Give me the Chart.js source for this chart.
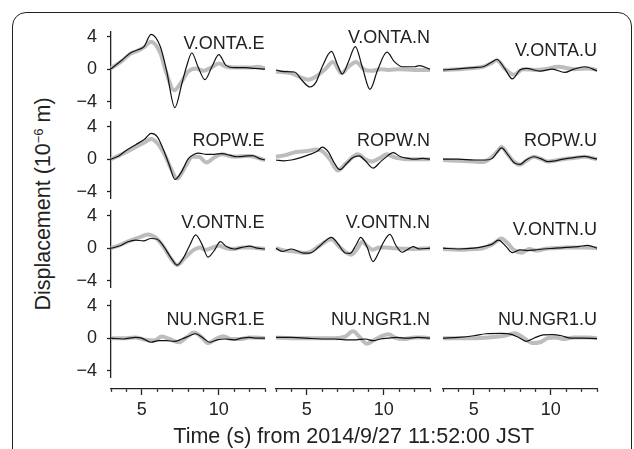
<!DOCTYPE html>
<html>
<head>
<meta charset="utf-8">
<script src="https://cdn.jsdelivr.net/npm/chart.js@4.4.0/dist/chart.umd.min.js"></script>
<style>
  body { margin: 0; background: #fff; }
  #page { position: relative; width: 634px; height: 449px; overflow: hidden;
          font-family: "Liberation Sans", Arial, sans-serif; color: #222; }
  #frame { position: absolute; left: 12px; top: 12px; width: 618px; height: 470px;
           border: 1.5px solid #222; border-radius: 14px; }
  canvas { position: absolute; }
  .lab { position: absolute; font-size: 18px; line-height: 20px; text-align: right; white-space: nowrap; }
  .title { position: absolute; font-size: 21.5px; line-height: 26px; text-align: center; white-space: nowrap; }
  sup { font-size: 13px; vertical-align: 7px; line-height: 0; }
</style>
</head>
<body>
<div id="page">
  <div id="frame"></div>
</div>
<script>
// traces as [time (s), displacement (1e-6 m)] : obs = black, syn = grey
const ontaE_obs = [[3,0.05],[3.7,1.1],[4.25,2.0],[4.75,2.4],[5.15,2.8],[5.6,4.3],[6.2,2.8],[6.6,-0.1],[7.15,-4.75],[7.6,-1.8],[7.9,0.3],[8.25,2.0],[8.65,0.3],[9.1,-1.3],[9.55,0.3],[10.0,1.8],[10.45,0.5],[11.0,0.2],[11.75,0.2],[12.3,0.1],[13,0]];
const ontaE_syn = [[3,0.1],[3.7,1.0],[4.25,1.9],[4.75,2.3],[5.2,2.8],[5.6,3.4],[6.2,2.0],[6.6,-0.5],[7.1,-2.6],[7.6,-1.5],[8.0,-0.3],[8.5,0.1],[9.0,-0.2],[9.5,0.2],[10.0,0.7],[10.5,0.3],[11.2,0.2],[12.0,0.2],[12.5,0.3],[13,0.1]];
const ontaN_obs = [[3,-0.1],[3.5,-0.3],[4.2,-0.35],[4.7,-1.4],[5.2,-2.2],[5.6,-1.6],[6.0,0.3],[6.6,2.2],[7.0,0.5],[7.3,-0.6],[7.7,0.9],[8.15,2.8],[8.6,0.3],[9.1,-2.5],[9.6,-0.1],[10.2,2.1],[10.7,0.9],[11.2,0.3],[12.0,0.3],[12.3,0.45],[13,0]];
const ontaN_syn = [[3,-0.3],[4.0,-0.5],[4.6,-1.0],[5.1,-1.3],[5.6,-0.9],[6.2,0.0],[6.7,0.9],[7.25,-0.5],[7.7,0.3],[8.2,0.9],[8.7,0.0],[9.2,-0.2],[9.8,0.0],[10.3,-0.1],[11,0.0],[12,-0.1],[13,-0.1]];
const ontaU_obs = [[3,-0.1],[4,0.05],[5,0.2],[5.6,0.3],[6.1,0.8],[6.5,1.2],[7.0,0.1],[7.5,-1.2],[8.0,-0.1],[8.4,0.1],[9.3,-0.25],[10.1,0.0],[10.9,-0.4],[11.5,0.0],[12.2,0.3],[13,-0.2]];
const ontaU_syn = [[3,-0.1],[4,0.0],[5,0.15],[5.6,0.3],[6.1,0.7],[6.5,1.1],[7.0,0.1],[7.6,-0.7],[8.2,0.0],[9.0,-0.1],[9.6,0.0],[10.5,0.3],[11.5,0.0],[12.5,0.1],[13,-0.1]];

const ropwE_obs = [[3,0],[3.5,0.4],[4,1.1],[4.6,1.8],[5.2,2.5],[5.6,3.2],[6.0,2.8],[6.4,1.2],[6.8,-0.8],[7.15,-2.5],[7.6,-1.5],[8.0,0.0],[8.4,0.6],[8.7,0.75],[9.2,0.6],[9.7,0.6],[10.2,0.7],[10.7,0.5],[11.2,0.3],[11.8,0.4],[12.2,0.45],[12.6,0.1],[13,-0.1]];
const ropwE_syn = [[3,0],[4,0.9],[4.6,1.5],[5.2,2.1],[5.6,2.5],[6.0,2.0],[6.5,0.5],[6.9,-1.2],[7.3,-2.4],[7.8,-1.0],[8.3,0.3],[8.7,0.3],[9.2,-0.4],[9.7,0.2],[10.2,0.6],[11.0,0.3],[12.0,0.4],[12.8,0.0],[13,-0.1]];
const ropwN_obs = [[3,-0.1],[3.5,-0.2],[4.0,-0.1],[4.6,0.2],[5.2,0.6],[5.7,1.0],[6.0,1.5],[6.4,0.9],[6.8,-0.5],[7.15,-1.3],[7.6,-0.5],[8.0,0.2],[8.4,0.4],[8.8,-0.2],[9.3,-1.1],[9.8,-0.3],[10.3,0.5],[10.6,0.8],[11.1,0.3],[11.6,0.1],[12.0,0.0],[12.5,0.1],[13,0]];
const ropwN_syn = [[3,0.3],[3.6,0.5],[4.3,0.9],[5.0,1.0],[5.6,1.2],[6.0,1.0],[6.5,0.0],[7.0,-1.4],[7.5,-0.6],[8.0,0.3],[8.3,0.6],[8.8,0.0],[9.2,-0.3],[9.8,0.2],[10.2,0.6],[10.6,0.3],[11,0.1],[11.5,0.0],[13,0.0]];
const ropwU_obs = [[3,0],[4,0],[5,-0.1],[5.8,-0.1],[6.2,0.1],[6.5,0.8],[6.8,1.4],[7.2,0.6],[7.6,-0.4],[8.0,-0.65],[8.4,-0.1],[8.9,0.3],[9.3,0.1],[9.8,-0.3],[10.3,-0.2],[10.8,0.0],[11.5,0.2],[12.2,0.35],[12.6,0.2],[13,0.0]];
const ropwU_syn = [[3,-0.1],[4,-0.2],[5,-0.3],[5.6,-0.35],[6.0,0.0],[6.5,0.9],[6.8,1.5],[7.2,0.6],[7.6,-0.3],[8.0,-0.7],[8.4,-0.2],[8.9,0.3],[9.4,0.0],[9.8,-0.3],[10.2,-0.2],[10.8,0.0],[11.5,0.15],[12.2,0.3],[13,0.0]];

const ontnE_obs = [[3,0],[3.6,0.3],[4.1,0.8],[4.6,1.0],[5.1,0.9],[5.6,1.2],[6.0,1.1],[6.4,0.3],[6.9,-1.2],[7.3,-2.1],[7.7,-1.2],[8.1,0.3],[8.5,1.65],[8.9,0.5],[9.3,-1.1],[9.7,-0.3],[10.1,0.8],[10.5,0.2],[11.0,-0.1],[11.5,0.1],[12.0,0.25],[12.5,0.0],[13,-0.1]];
const ontnE_syn = [[3,0],[3.6,0.4],[4.2,0.9],[4.8,1.3],[5.4,1.7],[5.9,1.3],[6.4,0.2],[6.9,-1.3],[7.3,-2.1],[7.8,-1.2],[8.3,-0.3],[8.8,0.1],[9.1,-0.2],[9.5,0.0],[10.0,0.3],[10.5,0.0],[11.0,-0.1],[11.5,0.1],[12.0,0.1],[12.5,0.0],[13,-0.1]];
const ontnN_obs = [[3,0],[3.4,-0.4],[4.0,-0.1],[4.8,-0.6],[5.2,-0.6],[5.8,0.2],[6.6,1.35],[7.0,0.6],[7.5,-0.6],[7.8,-0.65],[8.2,0.4],[8.5,1.35],[8.9,0.2],[9.3,-1.65],[9.7,-0.4],[10.0,0.8],[10.4,1.7],[10.8,0.3],[11.2,-0.5],[11.6,-0.1],[11.9,0.2],[12.3,-0.1],[13,0]];
const ontnN_syn = [[3,0],[3.6,-0.3],[4.2,-0.4],[4.8,-0.6],[5.2,-0.5],[5.9,0.4],[6.6,1.1],[7.1,0.2],[7.6,-0.6],[7.9,-0.8],[8.3,0.0],[8.6,0.8],[8.9,0.3],[9.3,-0.2],[9.7,0.1],[10.1,0.1],[10.6,0.0],[12,-0.1],[13,0]];
const ontnU_obs = [[3,0],[4,-0.1],[5,0],[5.6,0.2],[6.2,0.5],[6.6,1.0],[7.1,0.2],[7.5,-0.55],[8.0,-0.2],[8.5,-0.3],[9.0,-0.2],[9.5,-0.1],[10.3,0.0],[11,0.1],[11.8,0.2],[12.4,0.35],[13,0.0]];
const ontnU_syn = [[3,-0.1],[4,-0.2],[5,-0.1],[5.6,0.0],[6.3,0.6],[6.8,1.2],[7.2,0.6],[7.6,-0.2],[8.1,-0.55],[8.6,-0.1],[9.1,-0.3],[9.6,-0.1],[10.2,0.0],[11,0.1],[12,0.1],[13,0.0]];

const ngrE_obs = [[3,0],[3.8,-0.1],[4.6,0.1],[5.0,0.0],[5.6,-0.5],[6.1,-0.3],[6.6,-0.3],[7.1,-0.4],[7.6,-0.1],[8.1,0.3],[8.5,0.55],[9.0,0.0],[9.4,-0.5],[9.9,-0.2],[10.4,-0.1],[11.0,-0.2],[11.5,0.0],[12.0,0.1],[12.5,0.0],[13,0]];
const ngrE_syn = [[3,0],[4,0],[4.6,0.1],[5.2,-0.2],[5.8,-0.3],[6.3,0.2],[6.8,-0.1],[7.4,-0.5],[7.9,0.1],[8.4,0.7],[8.9,0.1],[9.3,-0.6],[9.8,-0.1],[10.3,0.25],[10.8,-0.1],[11.4,-0.1],[12,0.1],[13,0]];
const ngrN_obs = [[3,0.1],[4,0.1],[5,0.0],[6,-0.1],[6.8,-0.1],[7.5,-0.2],[8.2,-0.2],[8.8,-0.1],[9.3,-0.3],[9.8,-0.1],[10.3,0.0],[10.8,0.1],[11.5,0.0],[12.2,0.1],[13,0]];
const ngrN_syn = [[3,0.1],[4,0],[5,0],[6,0],[6.8,0],[7.5,0.2],[8.0,0.85],[8.5,0.0],[8.9,-0.7],[9.4,-0.2],[9.9,0.3],[10.3,0.5],[10.8,0.0],[11.3,-0.1],[12,0.1],[12.6,0.1],[13,0]];
const ngrU_obs = [[3,0],[4,0.1],[5,0.3],[5.8,0.55],[6.8,0.6],[7.5,0.45],[8.0,0.0],[8.4,-0.4],[8.9,0.0],[9.5,0.4],[10.1,0.45],[10.7,0.3],[11.3,0.0],[12,0.0],[13,-0.05]];
const ngrU_syn = [[3,0],[5,0],[6,0.1],[7,0.3],[7.7,0.6],[8.2,0.1],[8.8,-0.6],[9.3,-0.5],[9.8,0.0],[10.3,0.1],[10.8,-0.1],[11.5,0.1],[12.5,0.1],[13,0]];

const stations = [
  ['V.ONTA.E', 'V.ONTA.N', 'V.ONTA.U'],
  ['ROPW.E', 'ROPW.N', 'ROPW.U'],
  ['V.ONTN.E', 'V.ONTN.N', 'V.ONTN.U'],
  ['NU.NGR1.E', 'NU.NGR1.N', 'NU.NGR1.U']
];
const obsData = [
  [ontaE_obs, ontaN_obs, ontaU_obs],
  [ropwE_obs, ropwN_obs, ropwU_obs],
  [ontnE_obs, ontnN_obs, ontnU_obs],
  [ngrE_obs, ngrN_obs, ngrU_obs]
];
const synData = [
  [ontaE_syn, ontaN_syn, ontaU_syn],
  [ropwE_syn, ropwN_syn, ropwU_syn],
  [ontnE_syn, ontnN_syn, ontnU_syn],
  [ngrE_syn, ngrN_syn, ngrU_syn]
];
const yTicks = [-4, -2, 0, 2, 4];
const yTickLabels = { '-4': '\u22124', '0': '0', '4': '4' };
const xTicks = [3, 4, 5, 6, 7, 8, 9, 10, 11, 12, 13];
const xTickLabels = { 5: '5', 10: '10' };
const yTitle = 'Displacement (10<sup>\u22126</sup> m)';
const xTitle = 'Time (s) from 2014/9/27 11:52:00 JST';

// layout (px)
const colLeft = [110.5, 276, 443];
const colW = 154;
const rowTop = [32, 122, 211, 301];   // top of each plot area
const plotH = 76;
const padV = 12;
const axisW = 44;
const labelMid = [[43, 37, 49.5], [140, 140, 140], [222, 222, 229], [319, 319, 319]];
const FONT = '"Liberation Sans", Arial, sans-serif';
const INK = '#222';

Chart.defaults.font.family = FONT;
Chart.defaults.color = INK;

const page = document.getElementById('page');

function makeCanvas(left, top, w, h) {
  const c = document.createElement('canvas');
  c.width = w; c.height = h;
  c.style.left = left + 'px';
  c.style.top = top + 'px';
  c.style.width = w + 'px';
  c.style.height = h + 'px';
  page.appendChild(c);
  return c;
}

function panel(r, c) {
  const first = c === 0;
  const left = first ? colLeft[c] - axisW : colLeft[c] - 4;
  const w = first ? axisW + colW + 4 : colW + 8;
  const cv = makeCanvas(left, rowTop[r] - padV, w, plotH + 2 * padV);
  new Chart(cv, {
    type: 'line',
    data: {
      datasets: [
        { data: obsData[r][c], borderColor: '#111', borderWidth: 1.2 },
        { data: synData[r][c], borderColor: '#bdbdbd', borderWidth: 4 }
      ]
    },
    options: {
      responsive: false,
      animation: false,
      events: [],
      clip: false,
      elements: { point: { radius: 0 }, line: { cubicInterpolationMode: 'monotone', borderCapStyle: 'butt' } },
      layout: { padding: { left: first ? 0 : 4, right: 4, top: padV, bottom: padV } },
      plugins: { legend: { display: false }, tooltip: { enabled: false } },
      scales: {
        x: { type: 'linear', min: 3, max: 13, display: false },
        y: {
          min: -4.8, max: 4.6,
          display: first,
          border: { display: true, color: INK, width: 1.3 },
          grid: { drawOnChartArea: false, drawTicks: true, tickLength: 4, tickColor: INK, tickWidth: 1.3 },
          ticks: {
            padding: 10,
            font: { size: 18 },
            color: INK,
            callback: v => yTickLabels[String(v)] || ''
          },
          afterBuildTicks: s => { s.ticks = yTicks.map(v => ({ value: v })); },
          afterFit: s => {
            if (!first) return;
            s.width = axisW; s.paddingTop = 0; s.paddingBottom = 0;
          }
        }
      }
    }
  });

  const lab = document.createElement('div');
  lab.className = 'lab';
  lab.textContent = stations[r][c];
  lab.style.left = colLeft[c] + 'px';
  lab.style.width = colW + 'px';
  lab.style.top = (labelMid[r][c] - 10) + 'px';
  page.appendChild(lab);
}

function timeAxis(c) {
  const cv = makeCanvas(colLeft[c] - 4, 379, colW + 8, 50);
  new Chart(cv, {
    type: 'line',
    data: { datasets: [{ data: [] }] },
    options: {
      responsive: false,
      animation: false,
      events: [],
      layout: { padding: { left: 4, right: 4, top: 4, bottom: 0 } },
      plugins: { legend: { display: false }, tooltip: { enabled: false } },
      scales: {
        y: { display: false, min: 0, max: 1 },
        x: {
          type: 'linear', min: 3, max: 13,
          border: { display: true, color: INK, width: 1.3 },
          grid: {
            drawOnChartArea: false, drawTicks: true, tickLength: 6, tickColor: INK, tickWidth: 1.3,
            tickBorderDash: ctx => (ctx.tick && xTickLabels[ctx.tick.value]) ? [] : [2.5, 100]
          },
          ticks: {
            padding: 4,
            maxRotation: 0,
            autoSkip: false,
            font: { size: 18 },
            color: INK,
            callback: v => xTickLabels[v] || ''
          },
          afterBuildTicks: s => { s.ticks = xTicks.map(v => ({ value: v })); },
          afterFit: s => { s.height = 40; s.paddingLeft = 0; s.paddingRight = 0; }
        }
      }
    }
  });
}

for (let r = 0; r < 4; r++) for (let c = 0; c < 3; c++) panel(r, c);
for (let c = 0; c < 3; c++) timeAxis(c);

const yt = document.createElement('div');
yt.className = 'title';
yt.innerHTML = yTitle;
yt.style.width = '300px';
yt.style.left = (43 - 150) + 'px';
yt.style.top = (204 - 13) + 'px';
yt.style.transform = 'rotate(-90deg)';
page.appendChild(yt);

const xt = document.createElement('div');
xt.className = 'title';
xt.textContent = xTitle;
xt.style.width = '600px';
xt.style.left = (353.75 - 300) + 'px';
xt.style.top = (436 - 13) + 'px';
page.appendChild(xt);
</script>
</body>
</html>
